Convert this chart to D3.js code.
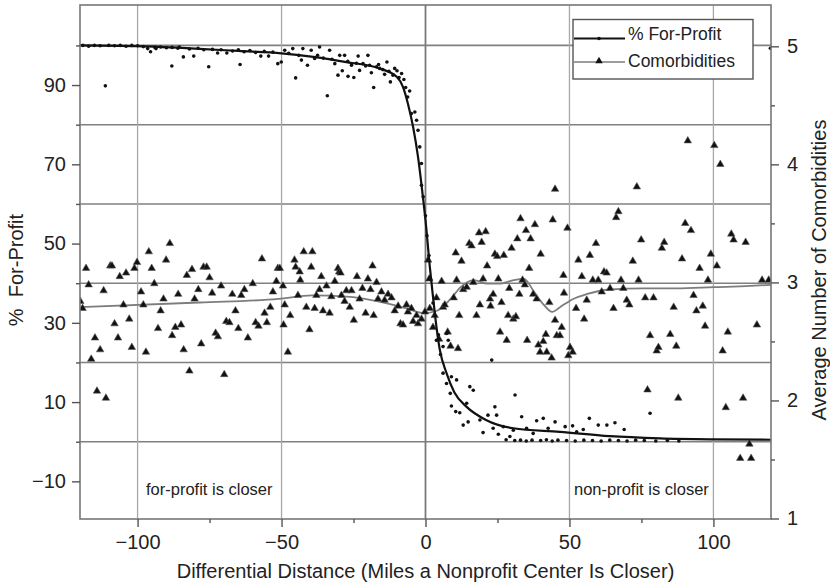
<!DOCTYPE html>
<html>
<head>
<meta charset="utf-8">
<script src="https://cdn.jsdelivr.net/npm/d3@7"></script>
<style>
  body { margin: 0; background: #fff; }
  svg { display: block; font-family: 'Liberation Sans', Arial, Helvetica, sans-serif; }
</style>
</head>
<body>
<svg id="chart"></svg>
<script>
// % for-profit, scatter points [distance, percent]
const profitPoints = [
  [-119, 100], [-117, 99.8], [-115, 100], [-113, 99.9], [-111.2, 89.8], [-110, 100], [-108, 99.9],
  [-106, 100], [-104, 99.8], [-102, 100], [-100, 99.9], [-98, 99.7], [-96.5, 99.2], [-95.5, 98.4],
  [-94, 99.5], [-93.6, 99.2], [-92, 99.6], [-90, 99.4], [-88.1, 94.8], [-88, 99.5], [-86, 99.3],
  [-85.5, 99.6], [-84.1, 97.1], [-82, 99.1], [-80.5, 97.3], [-79, 99.3], [-77, 98.9], [-75.3, 94.6],
  [-74, 99], [-72.2, 98.1], [-71, 98.9], [-69, 98.1], [-67, 98.6], [-65, 98.9], [-64.4, 95.2],
  [-63, 98.4], [-61, 98.7], [-59, 98.2], [-57.2, 97.3], [-56, 98.5], [-54.5, 97.3], [-53, 98.3],
  [-51.3, 95.4], [-50.1, 95.8], [-48.9, 98.8], [-47.5, 98], [-46.1, 99.2], [-45.1, 91.8], [-44, 97.5],
  [-43.1, 96.3], [-42.6, 99.2], [-41, 95], [-39.7, 98.8], [-38.5, 96.7], [-37.5, 97.5], [-36.8, 99.6],
  [-35.5, 96.8], [-34.1, 87.3], [-33.3, 98.8], [-32.5, 96.5], [-31.5, 95.4], [-30.4, 92.5], [-29.8, 97.5],
  [-28.9, 93.6], [-28.1, 97.5], [-27, 96], [-26.9, 92.2], [-25.7, 95], [-24.9, 91.9], [-24, 95.5],
  [-23.4, 97.3], [-22.9, 93.7], [-21.7, 95.4], [-20.8, 94.8], [-20, 97.5], [-19.4, 95], [-18.8, 93.1],
  [-18, 89.4], [-17, 94.6], [-16.3, 95.2], [-15.9, 94.2], [-14.8, 93.9], [-14.2, 92.7], [-13.4, 95.8],
  [-12.7, 93.5], [-12.2, 90.8], [-11.3, 92.5], [-10.7, 94.2], [-9.9, 93.6], [-9.2, 91.9], [-8.3, 92.9],
  [-7.5, 91.4], [-6.9, 89.4], [-6.2, 87], [-5.5, 88.5], [-4.9, 82.8], [-3.7, 83.2], [-3.1, 81.1],
  [-2.6, 78.6], [-2, 74.4], [-1.4, 70.2], [-1.4, 64.7], [-0.8, 61.8], [0, 57], [0.5, 52], [1.2, 47],
  [1.8, 41], [2.6, 35], [3.8, 36.2], [3.8, 25.6], [4.5, 27], [5.2, 22], [6.1, 24], [6.1, 17.3],
  [7.3, 27.3], [7.3, 14.7], [7.9, 25.6], [8.6, 12.2], [9, 16.4], [9, 9], [10.5, 7.6], [10.8, 15.6],
  [11.9, 7.3], [13.1, 4.2], [14.3, 9.7], [14.8, 5], [15.4, 13.9], [16.6, 13], [18.9, 5.5], [20, 2.3],
  [21.7, 6.7], [23, 20.6], [23.5, 3.4], [24.1, 8.8], [24.7, 6.7], [25.3, 1.9], [27, 3.8], [29.3, 1.3],
  [30.5, 2.9], [31.1, 11.8], [33.4, 6.3], [35.1, 3.4], [37.4, 2.1], [38.6, 5.3], [40.9, 5.9], [42.6, 3.4],
  [45, 5], [48.5, 3.8], [51.1, 4], [52.5, 2.5], [54.8, 3.1], [56.9, 5.9], [60, 4.2], [63, 4.2],
  [65.8, 4.8], [69, 3.1], [78, 7.2],
  [28, 0.5], [31, 0.3], [33, 0.4], [35, 0.2], [37, 0.4], [40, 0.3], [42, 0.5], [44, 0.2], [46, 0.4],
  [49, 0.3], [52, 0.2], [55, 0.4], [58, 0.3], [61, 0.2], [64, 0.4], [67, 0.3], [70, 0.2], [73, 0.4],
  [76, 0.3], [80, 0.2], [84, 0.3], [88, 0.2], [119.8, 99.3]
]

// % for-profit, smoothed line
const profitLine = [
  [-120, 100], [-100, 99.8], [-80, 99.2], [-65, 98.6], [-50, 98], [-39, 97.1], [-27.5, 95.8],
  [-16, 94.2], [-10, 92.1], [-7.8, 89.5], [-6.1, 85.3], [-4.3, 79.4], [-2.6, 71.9], [-0.9, 61.8],
  [0, 55.9], [1.5, 44.1], [2.6, 36.6], [3.8, 29], [5, 23.1], [7.3, 17.3], [10, 12.5], [14.3, 8.8],
  [21, 5.5], [30.5, 3.4], [46.7, 2.5], [64, 1.4], [81.5, 0.85], [100, 0.6], [120, 0.5]
]

// average comorbidities, scatter points [distance, count]
const comorbPoints = [
  [-119.9, 2.84], [-119.1, 2.78], [-117.9, 3.12], [-117, 2.98], [-116.1, 2.35], [-114.8, 2.53],
  [-113, 2.43], [-114.1, 2.08], [-111, 2.02], [-111.8, 2.93], [-109.5, 3.14], [-108.9, 3.14],
  [-108, 2.65], [-106.8, 2.53], [-106.2, 3.05], [-104.9, 2.81], [-104, 3.08], [-102.9, 2.69],
  [-102, 2.45], [-101.1, 3.12], [-100.2, 3.17], [-98.8, 2.92], [-98, 2.81], [-97.1, 2.41],
  [-96.1, 3.26], [-95.1, 3.12], [-94.2, 2.99], [-92.9, 2.61], [-92, 2.76], [-91, 2.86], [-90.1, 3.19],
  [-88.8, 3.33], [-88, 2.55], [-86.9, 2.62], [-85.9, 2.9], [-84.9, 2.64], [-84, 2.43], [-82.9, 3.06],
  [-82, 2.25], [-81.1, 3.11], [-80.2, 2.86], [-78.9, 2.94], [-77.9, 2.48], [-77.1, 3.13], [-76, 3.13],
  [-75, 3.04], [-74.1, 2.91], [-72.9, 2.57], [-72.1, 2.54], [-71, 2.97], [-69.9, 2.22], [-69.2, 2.67],
  [-68.1, 2.66], [-67.1, 2.9], [-66, 2.76], [-65, 2.61], [-64, 2.89], [-62.9, 2.94], [-61.7, 2.53],
  [-60, 2.99], [-59, 2.66], [-58, 2.63], [-56.8, 3.2], [-55.9, 2.74], [-55.1, 2.66], [-53.9, 2.79],
  [-53, 2.92], [-51.8, 3.01], [-51.3, 3.12],
  [-50.6, 3.12], [-49.5, 2.97], [-48.9, 2.81], [-49.3, 2.64], [-47.8, 2.41], [-47, 2.72], [-45.5, 3.19],
  [-45.1, 3.13], [-44.3, 2.89], [-43.7, 3.09], [-43.5, 3.02], [-42.3, 3.26], [-41.4, 2.79], [-40.3, 2.6],
  [-39.7, 3.13], [-39.3, 3.26], [-38.5, 2.78], [-37.9, 2.89], [-36.8, 2.94], [-36.2, 3.05], [-35.6, 2.76],
  [-34.4, 2.97], [-33.3, 2.74], [-32.7, 2.88], [-31.5, 3.01], [-30.4, 3.12], [-30, 3.09], [-29.5, 3.08],
  [-29.2, 2.89], [-28.1, 2.84], [-27.5, 2.93], [-26.3, 2.79], [-25.7, 2.93], [-24.9, 2.68], [-23.8, 3.05],
  [-22.9, 2.86], [-21.9, 2.95], [-20.8, 2.74], [-20, 3.03], [-19.1, 2.94], [-18.4, 3.14], [-18, 2.72],
  [-17, 3.0], [-16.5, 2.86], [-15.3, 2.92], [-14.2, 2.85], [-13, 2.9], [-11.8, 2.87], [-10.7, 2.76],
  [-9.5, 2.8], [-8.7, 2.65], [-7.8, 2.64], [-6.6, 2.81], [-6.1, 2.75], [-4.9, 2.78], [-4.3, 2.67],
  [-3.1, 2.72], [-2.6, 2.65], [-1.4, 2.69], [-0.2, 2.75], [0.9, 3.19], [1.3, 3.03], [1.5, 2.78],
  [2.6, 2.62], [3.2, 2.72], [3.8, 2.87], [4.7, 2.52], [5.6, 3.01], [6.1, 2.79], [6.7, 2.81], [7.7, 2.58],
  [8.7, 2.46], [9.8, 2.87], [10.5, 3.25], [10.8, 3.02], [11.3, 2.44], [11.7, 2.72], [12.5, 3.18],
  [13.1, 2.94], [14.3, 2.96], [15.2, 3.33], [16, 3.31], [16.6, 3.0], [17.7, 2.72], [18.6, 3.42],
  [18.9, 2.81], [19.5, 3.34], [20, 3.03], [20.9, 3.43], [21.4, 3.14], [22.4, 2.86], [22.6, 2.8],
  [23.5, 2.9], [24.1, 3.24], [24.9, 3.22], [25.3, 3.03], [25.9, 2.58], [26.4, 2.83], [27.2, 3.23],
  [28.2, 2.51], [28.7, 2.72], [29.1, 2.95], [29.9, 3.29], [30.5, 2.69], [31.4, 2.71], [31.9, 3.37],
  [32.6, 2.9], [33, 3.54], [33.7, 3.02], [34.5, 2.98], [34.9, 3.44], [35.3, 2.51], [36, 3.12],
  [36.5, 3.37], [37.4, 2.9], [38, 3.49], [38.6, 2.86], [39.2, 2.47], [39.8, 2.41], [40, 3.24],
  [40.9, 2.5], [41.8, 2.56], [42.1, 2.41], [43, 2.83], [43.8, 2.36], [44.2, 3.53], [45, 2.68],
  [45.6, 2.55], [45, 3.79],
  [49.3, 3.46], [47.9, 3.06], [48.1, 2.91], [47.3, 2.62], [46.7, 2.55], [50.2, 2.45], [51.1, 2.41],
  [49.6, 2.38], [53.1, 3.19], [54.3, 3.05], [52.3, 2.78], [55.1, 2.69], [56, 2.85], [57.1, 3.23],
  [58.1, 3.02], [59.2, 3.33], [60, 3.02], [61.2, 2.92], [62, 3.09], [62.9, 3.08], [64.1, 2.95],
  [65.3, 2.78], [66.2, 3.55], [67, 3.6], [67.9, 3.02], [68.7, 2.95], [69.9, 2.85], [70.8, 2.81],
  [72, 3.18], [74, 3.02], [74.9, 3.36], [76.3, 2.87], [78, 2.55], [79.2, 2.87], [80.3, 2.42],
  [80.9, 2.45], [82.1, 3.29], [82.9, 3.34], [85, 2.56], [86.2, 2.79], [87.1, 2.46], [89.1, 3.2],
  [90.2, 3.5], [92.2, 3.44], [93.1, 2.89], [94.1, 2.76], [95.2, 3.12], [96.3, 2.8], [97.1, 2.63],
  [98.1, 3.02], [99.1, 3.24], [101.2, 3.14], [103.2, 2.42], [105, 2.58], [106.2, 3.41], [107, 3.36],
  [111.2, 3.34], [115.1, 2.64], [116.9, 3.02], [119.2, 3.02],
  [73.4, 3.81], [91.1, 4.2], [100.3, 4.16], [102.4, 4.0],
  [104.3, 1.94], [110.3, 2.02], [87.8, 2.02], [77.1, 2.09], [112.5, 1.63], [109.3, 1.51], [113.1, 1.51]
]

// average comorbidities, smoothed line
const comorbLine = [
  [-120, 2.79], [-78.5, 2.83], [-51, 2.86], [-39.3, 2.89], [-27.5, 2.88], [-16.5, 2.84], [-6.6, 2.78],
  [-0.6, 2.74], [4, 2.76], [8.7, 2.86], [12.2, 2.96], [16.8, 3.02], [21.5, 2.99], [26.1, 2.99],
  [30.7, 3.02], [34.2, 3.03], [37.7, 2.92], [41.1, 2.81], [44, 2.75], [46.7, 2.79], [51.3, 2.86],
  [55.9, 2.9], [64.1, 2.94], [75.7, 2.95], [87.3, 2.95], [100, 2.96], [112.8, 2.97], [120, 2.98]
]

const xMajor = [-100, -50, 0, 50, 100]
const xMinor = [-75, -25, 25, 75]
const leftMajor = [90, 70, 50, 30, 10, -10]
const leftGrid = [100, 80, 60, 40, 20, 0]
const rightMajor = [5, 4, 3, 2, 1]
const rightMinor = [4.5, 3.5, 2.5, 1.5]

const W = 830
const H = 585
const plot = { left: 80, right: 771, top: 5, bottom: 519 }

const svg = d3.select('#chart').attr('width', W).attr('height', H)

/// scales ////
const xScale = d3.scaleLinear().domain([-120, 120]).range([plot.left, plot.right])
const yLeft = d3.scaleLinear().domain([-19.5, 110.2]).range([plot.bottom, plot.top])
const yRight = d3.scaleLinear().domain([1, 5.35]).range([518.5, plot.top])

svg.append('defs').append('clipPath').attr('id', 'clip')
  .append('rect')
  .attr('x', plot.left).attr('y', plot.top)
  .attr('width', plot.right - plot.left).attr('height', plot.bottom - plot.top)

/// gridlines ////
const grid = svg.append('g')
grid.selectAll('.hgrid')
  .data(leftGrid)
  .enter()
  .append('line')
  .attr('x1', plot.left).attr('x2', plot.right)
  .attr('y1', d => yLeft(d)).attr('y2', d => yLeft(d))
  .attr('stroke', '#808080')
  .attr('stroke-width', 1.6)

grid.selectAll('.vgrid')
  .data(xMajor)
  .enter()
  .append('line')
  .attr('x1', d => xScale(d)).attr('x2', d => xScale(d))
  .attr('y1', plot.top).attr('y2', plot.bottom)
  .attr('stroke', d => (d === 0 ? '#7a7a7a' : '#a8a8a8'))
  .attr('stroke-width', d => (d === 0 ? 1.8 : 1.3))

const body = svg.append('g').attr('clip-path', 'url(#clip)')

/// comorbidities ////
body.append('path')
  .datum(comorbLine)
  .attr('d', d3.line().x(d => xScale(d[0])).y(d => yRight(d[1])).curve(d3.curveMonotoneX))
  .attr('fill', 'none')
  .attr('stroke', '#7d7d7d')
  .attr('stroke-width', 1.8)

const tri = d3.symbol().type(d3.symbolTriangle).size(24)
body.selectAll('.tri')
  .data(comorbPoints)
  .enter()
  .append('path')
  .attr('d', tri)
  .attr('transform', d => `translate(${xScale(d[0])},${yRight(d[1])})`)
  .attr('fill', '#111')
  .attr('stroke', '#555')
  .attr('stroke-width', 0.6)

/// for-profit ////
body.append('path')
  .datum(profitLine)
  .attr('d', d3.line().x(d => xScale(d[0])).y(d => yLeft(d[1])).curve(d3.curveMonotoneX))
  .attr('fill', 'none')
  .attr('stroke', '#111')
  .attr('stroke-width', 2.2)

body.selectAll('.dot')
  .data(profitPoints)
  .enter()
  .append('circle')
  .attr('cx', d => xScale(d[0]))
  .attr('cy', d => yLeft(d[1]))
  .attr('r', 1.8)
  .attr('fill', '#111')

/// frame ////
svg.append('rect')
  .attr('x', plot.left).attr('y', plot.top)
  .attr('width', plot.right - plot.left).attr('height', plot.bottom - plot.top)
  .attr('fill', 'none')
  .attr('stroke', '#777')
  .attr('stroke-width', 1.6)

/// axes ////
function styleAxis(g) {
  g.select('.domain').remove()
  g.selectAll('.tick line').attr('stroke', '#555').attr('stroke-width', 1.4)
  g.selectAll('.tick text').attr('fill', '#222').attr('font-size', 20)
}

svg.append('g')
  .attr('transform', `translate(${plot.left},0)`)
  .call(d3.axisLeft(yLeft).tickValues(leftMajor).tickSize(8).tickPadding(6))
  .call(styleAxis)
svg.append('g')
  .attr('transform', `translate(${plot.left},0)`)
  .call(d3.axisLeft(yLeft).tickValues(leftGrid).tickSize(4).tickFormat(''))
  .call(styleAxis)

svg.append('g')
  .attr('transform', `translate(0,${plot.bottom})`)
  .call(d3.axisBottom(xScale).tickValues(xMajor).tickSize(8).tickPadding(8))
  .call(styleAxis)
svg.append('g')
  .attr('transform', `translate(0,${plot.bottom})`)
  .call(d3.axisBottom(xScale).tickValues(xMinor).tickSize(4).tickFormat(''))
  .call(styleAxis)

svg.append('g')
  .attr('transform', `translate(${plot.right},0)`)
  .call(d3.axisRight(yRight).tickValues(rightMajor).tickSize(8).tickPadding(8).tickFormat(d3.format('d')))
  .call(styleAxis)
svg.append('g')
  .attr('transform', `translate(${plot.right},0)`)
  .call(d3.axisRight(yRight).tickValues(rightMinor).tickSize(4).tickFormat(''))
  .call(styleAxis)

/// axis titles ////
svg.append('text')
  .text('Differential Distance (Miles a Nonprofit Center Is Closer)')
  .attr('x', (plot.left + plot.right) / 2)
  .attr('y', 578)
  .attr('text-anchor', 'middle')
  .attr('font-size', 20)
  .attr('fill', '#222')

svg.append('text')
  .text('%  For-Profit')
  .style('white-space', 'pre')
  .attr('transform', 'translate(23,270) rotate(-90)')
  .attr('text-anchor', 'middle')
  .attr('font-size', 20)
  .attr('fill', '#222')

svg.append('text')
  .text('Average Number of Comorbidities')
  .attr('transform', 'translate(826,270) rotate(-90)')
  .attr('text-anchor', 'middle')
  .attr('font-size', 20)
  .attr('fill', '#222')

/// annotations ////
svg.append('text')
  .text('for-profit is closer')
  .attr('x', 146).attr('y', 495)
  .attr('font-size', 16.5)
  .attr('fill', '#222')

svg.append('text')
  .text('non-profit is closer')
  .attr('x', 574).attr('y', 495)
  .attr('font-size', 16.5)
  .attr('fill', '#222')

/// legend ////
const legend = svg.append('g')
legend.append('rect')
  .attr('x', 573).attr('y', 19.5)
  .attr('width', 180).attr('height', 59.5)
  .attr('fill', '#fff')
  .attr('stroke', '#555')
  .attr('stroke-width', 1.4)

legend.append('line')
  .attr('x1', 574).attr('x2', 625).attr('y1', 38.5).attr('y2', 38.5)
  .attr('stroke', '#111').attr('stroke-width', 2.2)
legend.append('circle')
  .attr('cx', 599).attr('cy', 38.5).attr('r', 1.8).attr('fill', '#111')
legend.append('text')
  .text('% For-Profit')
  .attr('x', 628).attr('y', 40)
  .attr('font-size', 17.5).attr('fill', '#222')

legend.append('line')
  .attr('x1', 574).attr('x2', 625).attr('y1', 62).attr('y2', 62)
  .attr('stroke', '#7d7d7d').attr('stroke-width', 1.6)
legend.append('path')
  .attr('d', tri)
  .attr('transform', 'translate(599,61)')
  .attr('fill', '#111')
legend.append('text')
  .text('Comorbidities')
  .attr('x', 628).attr('y', 67)
  .attr('font-size', 17.5).attr('fill', '#222')
</script>
</body>
</html>
